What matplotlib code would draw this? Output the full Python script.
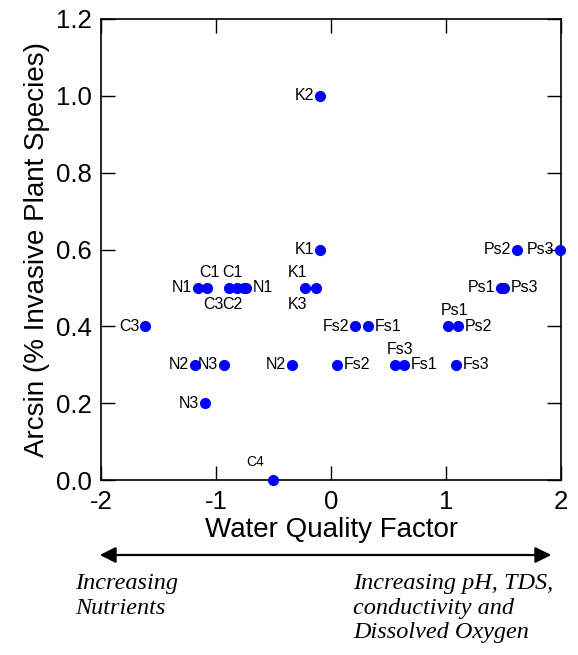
import matplotlib
matplotlib.use("Agg")
import matplotlib.pyplot as plt

# data
x_vals = [-1.617, -1.157, -1.078, -0.887, -0.817, -0.76, -0.739,
          -1.183, -0.93, -0.34, -1.096, -0.504,
          -0.096, -0.096, -0.226, -0.13,
          0.209, 0.32, 0.052, 0.557, 0.635, 1.087,
          1.017, 1.104, 1.48, 1.50, 1.617, 1.99]
y_vals = [0.4, 0.5, 0.5, 0.5, 0.5, 0.5, 0.5,
          0.3, 0.3, 0.3, 0.2, 0.0,
          1.0, 0.6, 0.5, 0.5,
          0.4, 0.4, 0.3, 0.3, 0.3, 0.3,
          0.4, 0.4, 0.5, 0.5, 0.6, 0.6]
labels = ["C3", "N1", "C1", "C3", "C1", "C2", "N1",
          "N2", "N3", "N2", "N3", "C4",
          "K2", "K1", "K1", "K3",
          "Fs2", "Fs1", "Fs2", "Fs3", "Fs1", "Fs3",
          "Ps1", "Ps2", "Ps1", "Ps3", "Ps2", "Ps3"]
# label placement: (dx px, dy px, ha, va)
L = (-6, 0, "right", "center")
R = (7, 0, "left", "center")
placements = [L, L, (2, 8, "center", "bottom"), (-16, -9, "center", "top"),
              (-5, 8, "center", "bottom"), (-11, -9, "center", "top"), R,
              L, L, L, L, (-18, 11, "center", "bottom"),
              L, L, (-8, 8, "center", "bottom"), (-19, -9, "center", "top"),
              L, R, R, (5, 8, "center", "bottom"), R, R,
              (6, 8, "center", "bottom"), R, L, R, L, L]
x_ticks = [-2, -1, 0, 1, 2]
y_ticks = [0.0, 0.2, 0.4, 0.6, 0.8, 1.0, 1.2]

plt.rcParams["font.family"] = ["Liberation Sans", "DejaVu Sans"]

fig = plt.figure(figsize=(5.78, 6.55), dpi=100)
ax = fig.add_axes([0.175, 0.267, 0.796, 0.704])

ax.plot(x_vals, y_vals, "o", color="#0000FF", markersize=7, clip_on=False, zorder=3)
for x, y, lab, (dx, dy, ha, va) in zip(x_vals, y_vals, labels, placements):
    fs = 10 if lab == "C4" else 11.5
    ax.annotate(lab, (x, y), xytext=(dx, dy), textcoords="offset pixels",
                ha=ha, va=va, fontsize=fs, color="black")

ax.set_xlim(-2, 2)
ax.set_ylim(0, 1.2)
ax.set_xticks(x_ticks)
ax.set_xticklabels([str(t) for t in x_ticks])
ax.set_yticks(y_ticks)
ax.set_yticklabels([f"{t:.1f}" for t in y_ticks])
ax.tick_params(direction="in", length=10, width=1, labelsize=18.5,
               top=True, right=True)
ax.tick_params(axis="x", pad=7)
ax.tick_params(axis="y", pad=7)
for s in ax.spines.values():
    s.set_linewidth(1.2)

ax.set_xlabel("Water Quality Factor", fontsize=20, labelpad=2)
ax.set_ylabel("Arcsin (% Invasive Plant Species)", fontsize=20, labelpad=4)

# double-headed arrow
fig.patches.append(matplotlib.patches.FancyArrowPatch(
    (97 / 578, 1 - 555 / 655), (554 / 578, 1 - 555 / 655),
    transform=fig.transFigure, arrowstyle="<|-|>", mutation_scale=24,
    color="black", linewidth=1.6))

serif = ["Liberation Serif", "DejaVu Serif"]
fig.text(75 / 578, 1 - 573 / 655, "Increasing\nNutrients", family=serif,
         style="italic", fontsize=17.5, va="top", ha="left", linespacing=1.22)
fig.text(353 / 578, 1 - 573 / 655,
         "Increasing pH, TDS,\nconductivity and\nDissolved Oxygen",
         family=serif, style="italic", fontsize=17.5, va="top", ha="left",
         linespacing=1.22)

fig.savefig("out.png", dpi=100)
